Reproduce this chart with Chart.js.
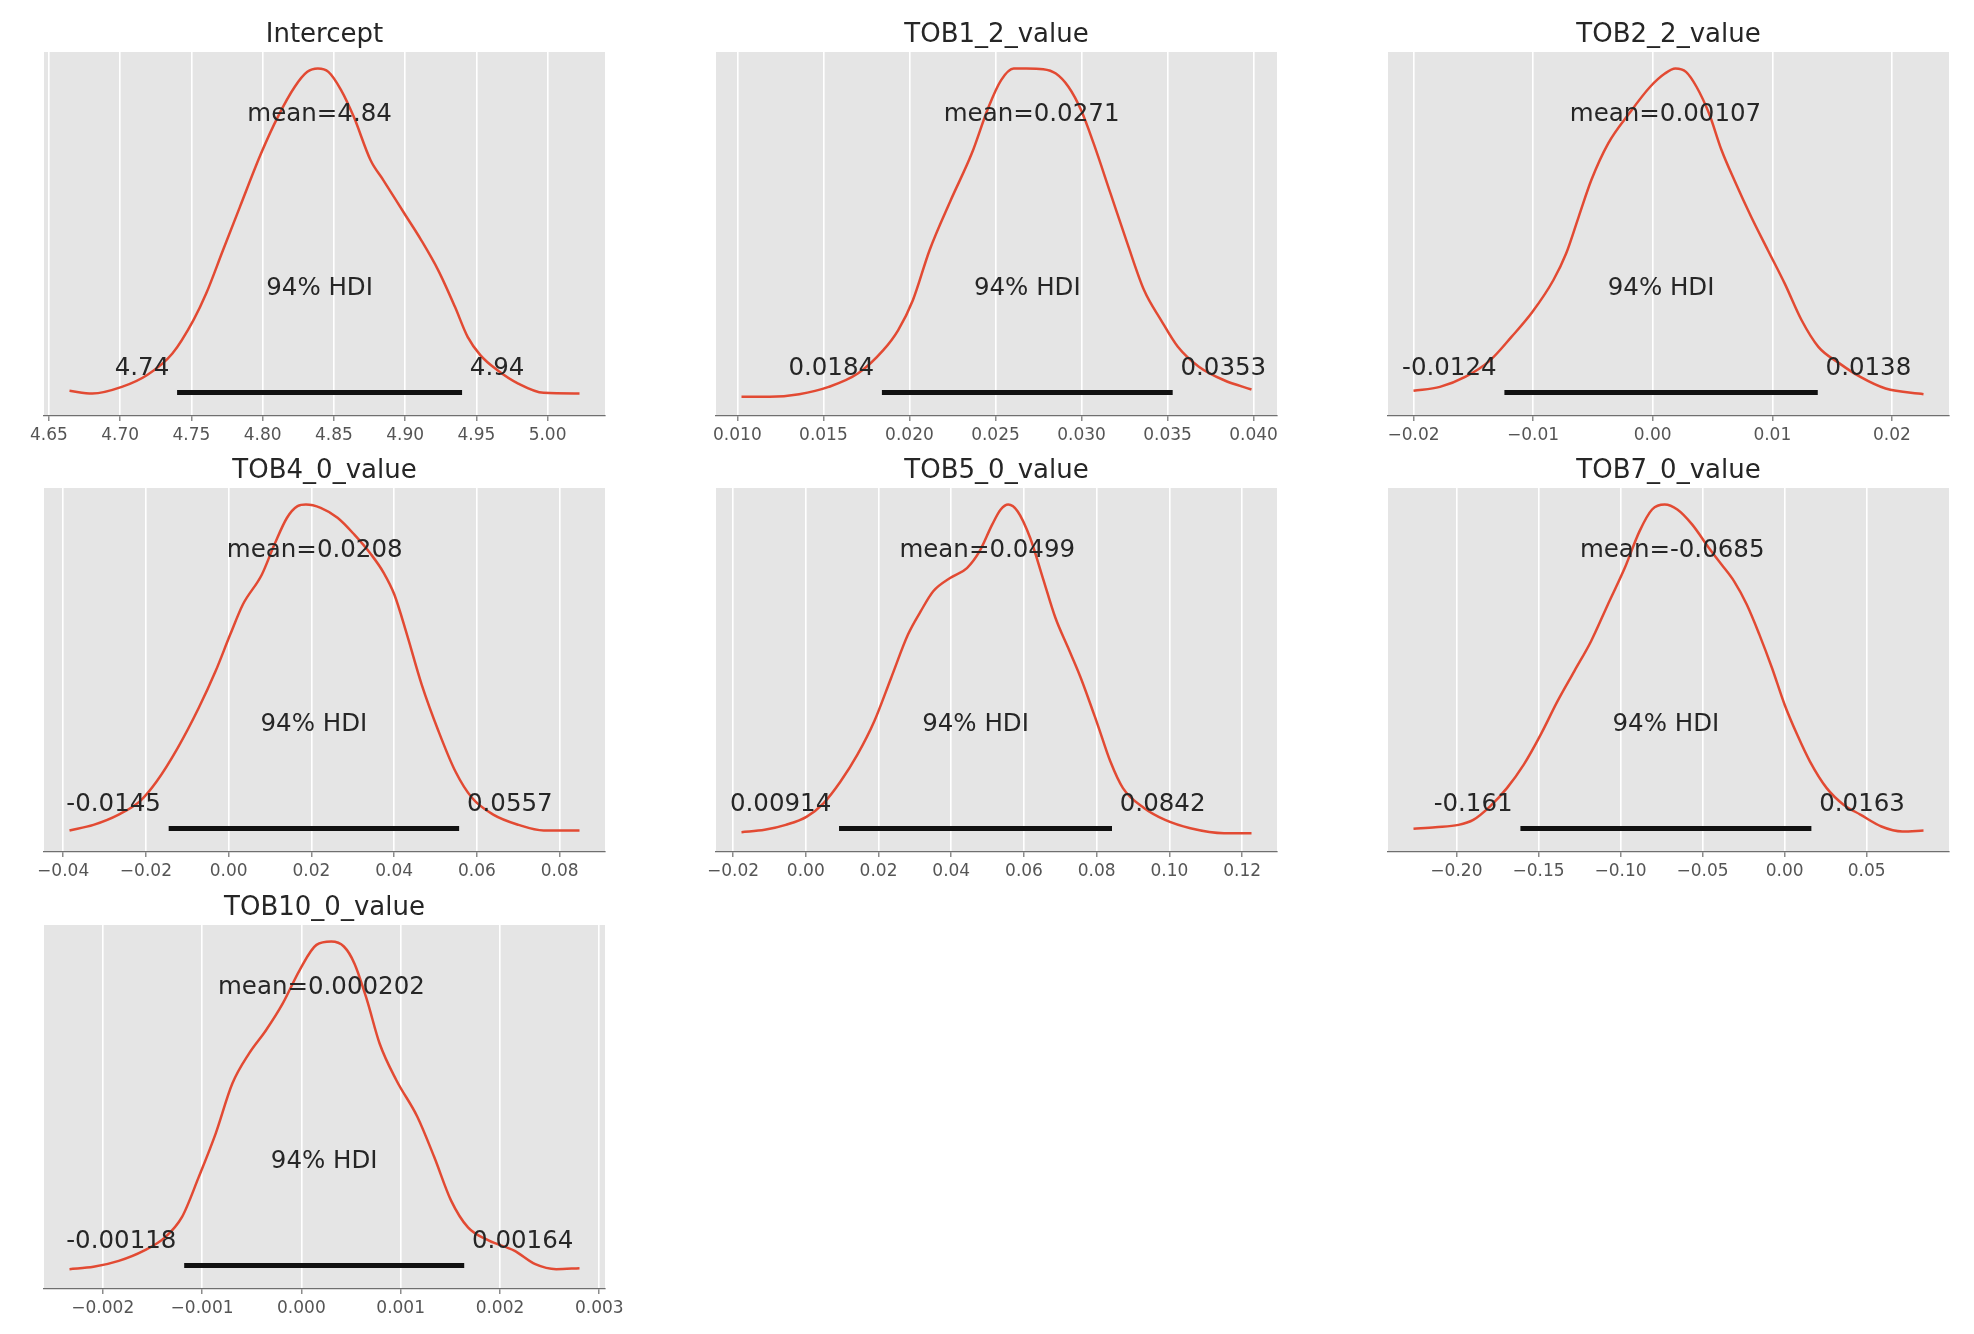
<!DOCTYPE html>
<html>
<head>
<meta charset="utf-8">
<script src="https://cdn.jsdelivr.net/npm/chart.js@4.4.1/dist/chart.umd.min.js"></script>
<style>
  html, body { margin: 0; padding: 0; background: #fff; }
  body { width: 1974px; height: 1334px; position: relative; overflow: hidden; }
  .panel { position: absolute; }
</style>
</head>
<body>
<script>
// Posterior densities (peak scaled to 1)

const interceptX = [4.6645, 4.6805, 4.7012, 4.719, 4.7367, 4.7515, 4.7604, 4.7722, 4.7841, 4.7989, 4.8107, 4.8226, 4.8314, 4.8388, 4.8462, 4.8551, 4.864, 4.8758, 4.8847, 4.8995, 4.9114, 4.9232, 4.935, 4.9439, 4.9528, 4.9646, 4.9794, 4.9972, 5.0224]
const interceptY = [0.026, 0.018, 0.038, 0.074, 0.139, 0.240, 0.320, 0.451, 0.582, 0.743, 0.854, 0.945, 0.990, 1.0, 0.990, 0.935, 0.854, 0.723, 0.663, 0.562, 0.481, 0.391, 0.280, 0.189, 0.134, 0.089, 0.048, 0.020, 0.018]
const interceptTicks = [4.65, 4.70, 4.75, 4.80, 4.85, 4.90, 4.95, 5.00]
const interceptTickLabels = ['4.65', '4.70', '4.75', '4.80', '4.85', '4.90', '4.95', '5.00']
const interceptMean = 4.84
const interceptHdi = [4.74, 4.94]

const tob1X = [0.01024, 0.01188, 0.01359, 0.01531, 0.01702, 0.01848, 0.01934, 0.0202, 0.02117, 0.0224, 0.02362, 0.0246, 0.02533, 0.02606, 0.0268, 0.02778, 0.02851, 0.02924, 0.02998, 0.03071, 0.03169, 0.03267, 0.03364, 0.03462, 0.0356, 0.03682, 0.03829, 0.03988]
const tob1Y = [0.008, 0.008, 0.016, 0.038, 0.079, 0.149, 0.209, 0.300, 0.451, 0.602, 0.743, 0.884, 0.965, 1.0, 1.0, 0.998, 0.985, 0.945, 0.874, 0.773, 0.622, 0.471, 0.330, 0.240, 0.159, 0.099, 0.058, 0.030]
const tob1Ticks = [0.010, 0.015, 0.020, 0.025, 0.030, 0.035, 0.040]
const tob1TickLabels = ['0.010', '0.015', '0.020', '0.025', '0.030', '0.035', '0.040']
const tob1Mean = 0.0271
const tob1Hdi = [0.0184, 0.0353]

const tob2X = [-0.02, -0.01779, -0.01568, -0.01357, -0.01181, -0.01005, -0.0083, -0.00724, -0.00619, -0.00513, -0.00373, -0.00197, -0.00021, 0.00102, 0.0019, 0.00278, 0.00366, 0.00471, 0.00576, 0.00682, 0.00823, 0.00963, 0.01104, 0.01244, 0.01385, 0.01561, 0.01736, 0.01947, 0.02264]
const tob2Y = [0.026, 0.038, 0.068, 0.119, 0.189, 0.265, 0.361, 0.441, 0.552, 0.663, 0.773, 0.864, 0.945, 0.985, 1.0, 0.990, 0.945, 0.864, 0.753, 0.663, 0.552, 0.451, 0.350, 0.240, 0.159, 0.109, 0.068, 0.033, 0.016]
const tob2Ticks = [-0.02, -0.01, 0.00, 0.01, 0.02]
const tob2TickLabels = ['\u22120.02', '\u22120.01', '0.00', '0.01', '0.02']
const tob2Mean = 0.00107
const tob2Hdi = [-0.0124, 0.0138]

const tob4X = [-0.03847, -0.03268, -0.02658, -0.02149, -0.01742, -0.01234, -0.00725, -0.00318, 0.00037, 0.00343, 0.008, 0.01105, 0.0141, 0.01665, 0.01868, 0.02224, 0.02631, 0.03038, 0.03444, 0.0375, 0.04004, 0.04309, 0.04665, 0.05072, 0.05478, 0.05885, 0.06394, 0.07004, 0.07614, 0.08479]
const tob4Y = [0.015, 0.032, 0.063, 0.103, 0.163, 0.264, 0.385, 0.496, 0.607, 0.698, 0.788, 0.879, 0.960, 0.995, 1.0, 0.990, 0.960, 0.909, 0.849, 0.793, 0.728, 0.607, 0.456, 0.315, 0.194, 0.113, 0.063, 0.032, 0.015, 0.015]
const tob4Ticks = [-0.04, -0.02, 0.00, 0.02, 0.04, 0.06, 0.08]
const tob4TickLabels = ['\u22120.04', '\u22120.02', '0.00', '0.02', '0.04', '0.06', '0.08']
const tob4Mean = 0.0208
const tob4Hdi = [-0.0145, 0.0557]

const tob5X = [-0.01768, -0.01131, -0.00551, 0.00028, 0.00492, 0.00955, 0.01419, 0.01883, 0.02346, 0.0281, 0.03158, 0.03505, 0.03969, 0.04432, 0.0478, 0.05128, 0.0536, 0.05568, 0.05823, 0.06171, 0.06519, 0.06866, 0.07214, 0.07562, 0.08025, 0.08373, 0.08721, 0.093, 0.0988, 0.10575, 0.11502, 0.12256]
const tob5Y = [0.010, 0.017, 0.032, 0.057, 0.098, 0.163, 0.244, 0.345, 0.476, 0.607, 0.677, 0.738, 0.778, 0.808, 0.859, 0.940, 0.985, 1.0, 0.980, 0.899, 0.778, 0.657, 0.567, 0.476, 0.335, 0.224, 0.143, 0.083, 0.047, 0.022, 0.007, 0.007]
const tob5Ticks = [-0.02, 0.00, 0.02, 0.04, 0.06, 0.08, 0.10, 0.12]
const tob5TickLabels = ['\u22120.02', '0.00', '0.02', '0.04', '0.06', '0.08', '0.10', '0.12']
const tob5Mean = 0.0499
const tob5Hdi = [0.00914, 0.0842]

const tob7X = [-0.22615, -0.21282, -0.19872, -0.18974, -0.17949, -0.16923, -0.15897, -0.14872, -0.13846, -0.12821, -0.11795, -0.1077, -0.09744, -0.08846, -0.08077, -0.07308, -0.06538, -0.05641, -0.04615, -0.03846, -0.03077, -0.02308, -0.01538, -0.00769, 0.0, 0.00769, 0.01538, 0.02564, 0.0359, 0.04615, 0.05897, 0.07179, 0.08462]
const tob7Y = [0.020, 0.025, 0.032, 0.047, 0.088, 0.143, 0.214, 0.304, 0.405, 0.496, 0.587, 0.698, 0.808, 0.919, 0.985, 1.0, 0.985, 0.940, 0.869, 0.819, 0.768, 0.698, 0.607, 0.506, 0.395, 0.304, 0.224, 0.143, 0.093, 0.063, 0.027, 0.012, 0.015]
const tob7Ticks = [-0.20, -0.15, -0.10, -0.05, 0.00, 0.05]
const tob7TickLabels = ['\u22120.20', '\u22120.15', '\u22120.10', '\u22120.05', '0.00', '0.05']
const tob7Mean = -0.0685
const tob7Hdi = [-0.161, 0.0163]

const tob10X = [-0.002335, -0.002093, -0.001839, -0.001585, -0.001373, -0.001203, -0.001034, -0.000864, -0.000695, -0.000526, -0.000356, -0.000187, -0.000017, 0.000152, 0.000301, 0.000428, 0.000534, 0.000661, 0.000788, 0.000957, 0.001169, 0.001339, 0.001508, 0.001678, 0.00189, 0.002144, 0.002356, 0.002567, 0.002801]
const tob10Y = [0.010, 0.017, 0.035, 0.066, 0.106, 0.167, 0.288, 0.419, 0.571, 0.662, 0.732, 0.813, 0.914, 0.990, 1.0, 0.985, 0.934, 0.823, 0.692, 0.581, 0.470, 0.348, 0.217, 0.136, 0.096, 0.066, 0.025, 0.010, 0.013]
const tob10Ticks = [-0.002, -0.001, 0.000, 0.001, 0.002, 0.003]
const tob10TickLabels = ['\u22120.002', '\u22120.001', '0.000', '0.001', '0.002', '0.003']
const tob10Mean = 0.000202
const tob10Hdi = [-0.00118, 0.00164]

const hdiLabel = '94% HDI'

// Panel table built from the arrays above
const panels = [
  { title: 'Intercept', xs: interceptX, ys: interceptY, ticks: interceptTicks, tickLabels: interceptTickLabels, mean: interceptMean, hdi: interceptHdi },
  { title: 'TOB1_2_value', xs: tob1X, ys: tob1Y, ticks: tob1Ticks, tickLabels: tob1TickLabels, mean: tob1Mean, hdi: tob1Hdi },
  { title: 'TOB2_2_value', xs: tob2X, ys: tob2Y, ticks: tob2Ticks, tickLabels: tob2TickLabels, mean: tob2Mean, hdi: tob2Hdi },
  { title: 'TOB4_0_value', xs: tob4X, ys: tob4Y, ticks: tob4Ticks, tickLabels: tob4TickLabels, mean: tob4Mean, hdi: tob4Hdi },
  { title: 'TOB5_0_value', xs: tob5X, ys: tob5Y, ticks: tob5Ticks, tickLabels: tob5TickLabels, mean: tob5Mean, hdi: tob5Hdi },
  { title: 'TOB7_0_value', xs: tob7X, ys: tob7Y, ticks: tob7Ticks, tickLabels: tob7TickLabels, mean: tob7Mean, hdi: tob7Hdi },
  { title: 'TOB10_0_value', xs: tob10X, ys: tob10Y, ticks: tob10Ticks, tickLabels: tob10TickLabels, mean: tob10Mean, hdi: tob10Hdi }
]

// Layout of the 3x3 grid (pixels)
const colLeft = [44, 716, 1388]
const rowTop = [52, 488, 925]
const PANEL_W = 561
const PANEL_H = 364
const PAD_X = 40
const PAD_TOP = 56
const AXIS_H = 40

const FONT = '"DejaVu Sans", "Liberation Sans", sans-serif'
const KDE_COLOR = '#E24A33'
const TEXT_COLOR = '#262626'

// Background, title and ArviZ style annotations
function makeDecor(p) {
  return {
    id: 'panelDecor',
    beforeDraw(chart) {
      const { ctx, chartArea: a } = chart
      ctx.save()
      ctx.fillStyle = '#E5E5E5'
      ctx.fillRect(a.left, a.top, a.right - a.left, a.bottom - a.top)
      ctx.restore()
    },
    afterDraw(chart) {
      const { ctx, chartArea: a } = chart
      const sx = chart.scales.x
      const sy = chart.scales.y
      const top = sy.max
      const labelY = sy.getPixelForValue(top * 0.07)
      ctx.save()
      ctx.fillStyle = TEXT_COLOR
      ctx.textAlign = 'center'
      ctx.textBaseline = 'alphabetic'

      ctx.font = '26px ' + FONT
      ctx.fillText(p.title, (a.left + a.right) / 2, a.top - 10)

      ctx.font = '24.5px ' + FONT
      ctx.fillText('mean=' + p.mean, sx.getPixelForValue(p.mean), sy.getPixelForValue(top * 0.8))
      ctx.fillText(hdiLabel, sx.getPixelForValue((p.hdi[0] + p.hdi[1]) / 2), sy.getPixelForValue(top * 0.3))

      // interval ends sit outside the bar, padded by a space
      ctx.textAlign = 'right'
      ctx.fillText(p.hdi[0] + ' ', sx.getPixelForValue(p.hdi[0]), labelY)
      ctx.textAlign = 'left'
      ctx.fillText(' ' + p.hdi[1], sx.getPixelForValue(p.hdi[1]), labelY)
      ctx.restore()
    }
  }
}

panels.forEach((p, i) => {
  const div = document.createElement('div')
  div.className = 'panel'
  div.style.left = (colLeft[i % 3] - PAD_X) + 'px'
  div.style.top = (rowTop[Math.floor(i / 3)] - PAD_TOP) + 'px'
  div.style.width = (PANEL_W + 2 * PAD_X) + 'px'
  div.style.height = (PAD_TOP + PANEL_H + AXIS_H) + 'px'
  const canvas = document.createElement('canvas')
  div.appendChild(canvas)
  document.body.appendChild(div)

  const lo = p.xs[0]
  const hi = p.xs[p.xs.length - 1]
  const margin = (hi - lo) * 0.05
  const peak = Math.max(...p.ys)

  const kde = p.xs.map((x, k) => ({ x: x, y: p.ys[k] }))
  const hdiLine = p.hdi.map(x => ({ x: x, y: peak * 1.05 * 0.02 }))

  new Chart(canvas, {
    type: 'line',
    data: {
      datasets: [
        {
          data: hdiLine,
          borderColor: '#111111',
          borderWidth: 5,
          borderCapStyle: 'butt',
          pointRadius: 0,
          tension: 0
        },
        {
          data: kde,
          borderColor: KDE_COLOR,
          borderWidth: 2.5,
          pointRadius: 0,
          tension: 0.4,
          cubicInterpolationMode: 'monotone'
        }
      ]
    },
    options: {
      responsive: true,
      maintainAspectRatio: false,
      animation: false,
      events: [],
      layout: { padding: { top: PAD_TOP, left: PAD_X, right: PAD_X, bottom: 0 } },
      plugins: {
        legend: { display: false },
        tooltip: { enabled: false },
        title: { display: false }
      },
      scales: {
        x: {
          type: 'linear',
          min: lo - margin,
          max: hi + margin,
          afterBuildTicks: s => { s.ticks = p.ticks.map(v => ({ value: v })) },
          afterFit: s => { s.height = AXIS_H },
          ticks: {
            autoSkip: false,
            maxRotation: 0,
            padding: 4,
            color: '#555555',
            font: { family: FONT, size: 17 },
            callback: (v, k) => p.tickLabels[k]
          },
          grid: {
            color: '#ffffff',
            lineWidth: 1.6,
            drawTicks: true,
            tickLength: 5,
            tickColor: '#6f6f6f',
            tickWidth: 1.2
          },
          border: { display: true, color: '#6f6f6f', width: 1.3 }
        },
        y: {
          display: false,
          min: -peak * 0.05,
          max: peak * 1.05
        }
      }
    },
    plugins: [makeDecor(p)]
  })
})
</script>
</body>
</html>
